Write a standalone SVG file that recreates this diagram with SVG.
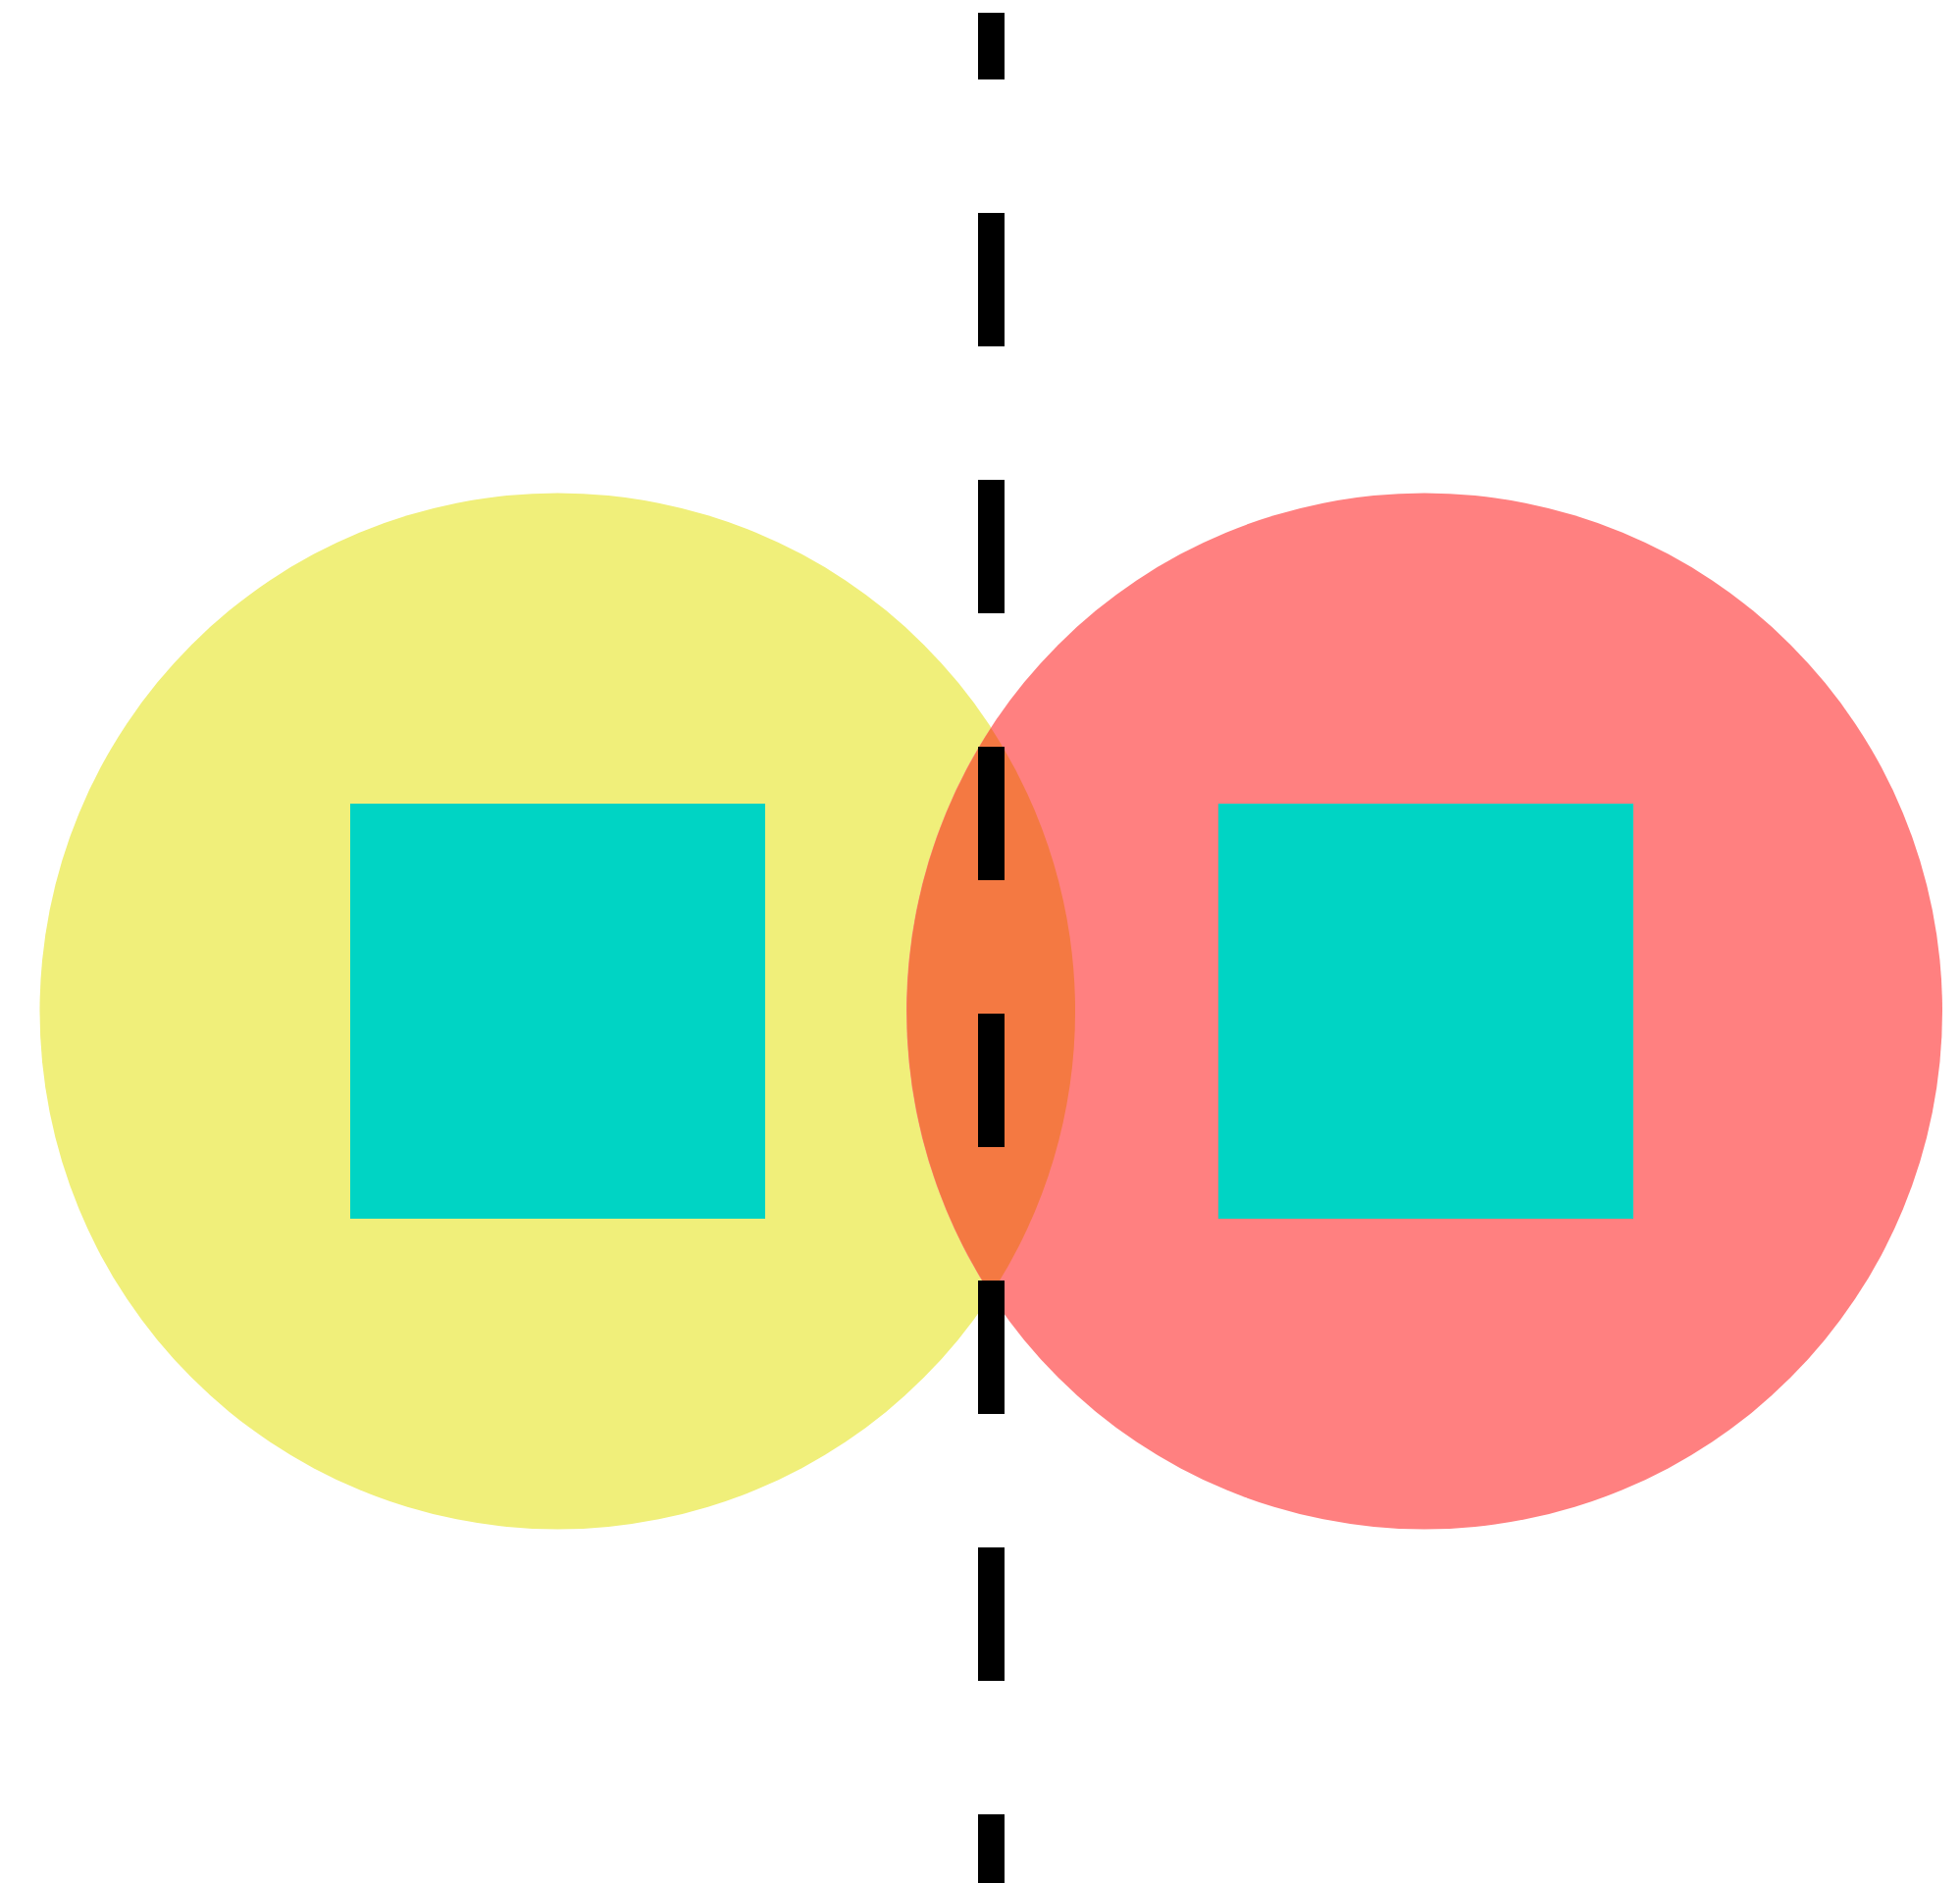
<svg xmlns="http://www.w3.org/2000/svg" width="1998" height="1919" viewBox="0 0 1998 1919">
<style>
.sq{fill:#00D4C4}
</style>
<rect width="1998" height="1919" fill="#ffffff"/>
<g id="circle-left"><circle cx="568.5" cy="1030.5" r="528" fill="#F0EF7A"/></g>
<g id="circle-right"><circle cx="1452" cy="1030.5" r="528" fill="#FF8080"/></g>
<g id="overlap"><path d="M1010.25,742 A528,528 0 0,1 1010.25,1319 A528,528 0 0,1 1010.25,742 Z" fill="#F47942"/></g>
<g id="connectors"><line x1="1010.5" y1="13" x2="1010.5" y2="1930" stroke="#000" stroke-width="27" stroke-dasharray="136 136" stroke-dashoffset="68"/></g>
<g id="square-left"><rect class="sq" x="357" y="819" width="423" height="423"/></g>
<g id="square-right"><rect class="sq" x="1242" y="819" width="423" height="423"/></g>
</svg>
